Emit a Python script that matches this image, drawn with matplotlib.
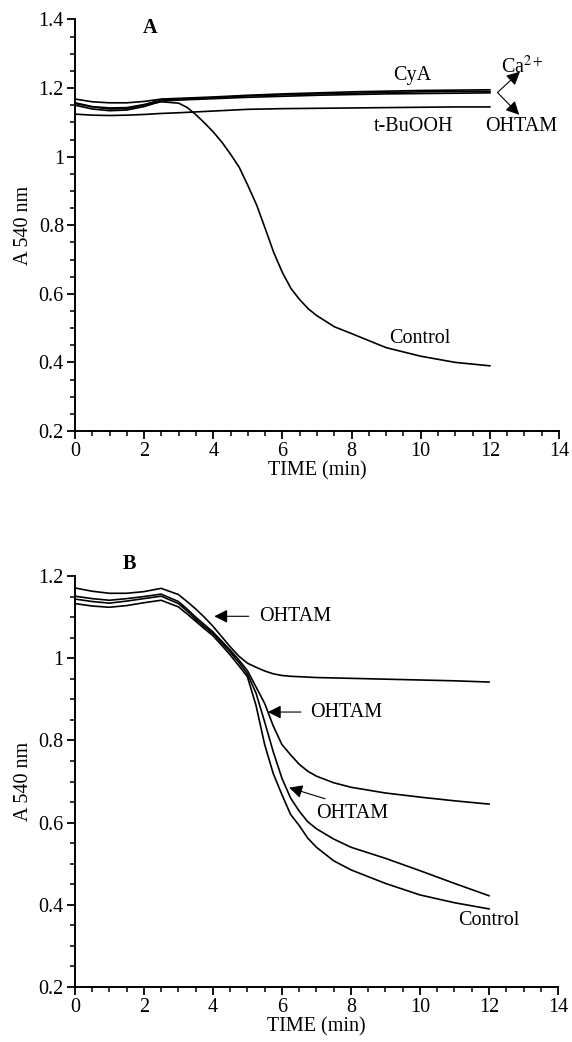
import matplotlib.pyplot as plt
from matplotlib.ticker import MultipleLocator

plt.rcParams['font.family'] = ['Liberation Serif', 'DejaVu Serif']
plt.rcParams['mathtext.fontset'] = 'stix'

# Время измерения (мин): грубая сетка для пологих кривых, частая для падающих
t_flat = [0, 0.5, 1, 1.5, 2, 2.5, 3, 4, 5, 6, 7, 8, 9, 10, 11, 12]
t = [0, 0.5, 1, 1.5, 2, 2.5, 3, 3.25, 3.5, 3.75, 4, 4.25, 4.5, 4.75, 5, 5.25, 5.5, 5.75,
     6, 6.25, 6.5, 6.75, 7, 7.5, 8, 9, 10, 11, 12]

# Панель A
a_cya = [1.168, 1.160, 1.157, 1.157, 1.161, 1.168, 1.170, 1.174, 1.179, 1.183, 1.186, 1.189,
         1.191, 1.193, 1.194, 1.195]
a_ca = [1.157, 1.146, 1.142, 1.143, 1.152, 1.166, 1.168, 1.172, 1.177, 1.180, 1.183, 1.185,
        1.187, 1.189, 1.190, 1.190]
a_ohtam = [1.150, 1.139, 1.134, 1.136, 1.146, 1.162, 1.165, 1.169, 1.173, 1.176, 1.179, 1.181,
           1.183, 1.184, 1.185, 1.186]
a_tbu = [1.124, 1.121, 1.120, 1.121, 1.123, 1.126, 1.128, 1.133, 1.138, 1.140, 1.141, 1.142,
         1.143, 1.144, 1.145, 1.145]
a_control = [1.155, 1.145, 1.139, 1.140, 1.150, 1.160, 1.156, 1.143, 1.122, 1.098, 1.072, 1.042,
             1.007, 0.969, 0.916, 0.860, 0.791, 0.720, 0.662, 0.615, 0.583, 0.556, 0.536, 0.504,
             0.484, 0.443, 0.418, 0.400, 0.390]

# Панель B
b_ohtam1 = [1.171, 1.163, 1.158, 1.158, 1.162, 1.170, 1.155, 1.138, 1.120, 1.100, 1.078, 1.053,
            1.028, 1.005, 0.988, 0.978, 0.969, 0.962, 0.958, 0.956, 0.955, 0.954, 0.953, 0.952,
            0.951, 0.949, 0.947, 0.945, 0.942]
b_ohtam2 = [1.151, 1.145, 1.141, 1.145, 1.150, 1.156, 1.138, 1.120, 1.100, 1.082, 1.064, 1.042,
            1.020, 0.996, 0.970, 0.930, 0.890, 0.835, 0.790, 0.765, 0.742, 0.725, 0.713, 0.697,
            0.686, 0.672, 0.662, 0.653, 0.645]
b_ohtam3 = [1.144, 1.138, 1.134, 1.139, 1.145, 1.151, 1.133, 1.115, 1.095, 1.077, 1.060, 1.038,
            1.015, 0.990, 0.962, 0.915, 0.845, 0.772, 0.708, 0.660, 0.628, 0.602, 0.585, 0.560,
            0.540, 0.513, 0.483, 0.452, 0.422]
b_control = [1.133, 1.127, 1.124, 1.128, 1.135, 1.141, 1.125, 1.108, 1.090, 1.072, 1.055, 1.032,
             1.008, 0.982, 0.955, 0.885, 0.790, 0.719, 0.668, 0.620, 0.593, 0.562, 0.540, 0.507,
             0.485, 0.452, 0.424, 0.405, 0.390]

fig = plt.figure(figsize=(5.72, 10.42), dpi=100)
axA = fig.add_axes([0.1311, 0.5864, 0.8462, 0.3949])
axB = fig.add_axes([0.1308, 0.0528, 0.8448, 0.3944])

FS = 14.5


def style_axes(ax, ymin, ymax):
    ax.set_xlim(0, 14)
    ax.set_ylim(ymin, ymax)
    for side in ('top', 'right'):
        ax.spines[side].set_visible(False)
    for side in ('left', 'bottom'):
        ax.spines[side].set_linewidth(1.4)
    ax.xaxis.set_major_locator(MultipleLocator(2))
    ax.xaxis.set_minor_locator(MultipleLocator(0.5))
    ax.yaxis.set_major_locator(MultipleLocator(0.2))
    ax.yaxis.set_minor_locator(MultipleLocator(0.05))
    ax.tick_params(which='major', direction='out', length=6, width=1.3, labelsize=FS, pad=2)
    ax.tick_params(which='minor', direction='out', length=3.5, width=1.1)
    ax.set_yticklabels([f'{v:g}' for v in ax.get_yticks()])
    ax.set_xlabel('TIME (min)', fontsize=FS, labelpad=0)
    ax.set_ylabel('A 540 nm', fontsize=FS, labelpad=4)


lw = 1.2
for y in (a_cya, a_ca, a_ohtam, a_tbu):
    axA.plot(t_flat, y, color='black', lw=lw)
axA.plot(t, a_control, color='black', lw=lw)
style_axes(axA, 0.2, 1.4)
axA.text(2.16, 1.375, 'A', fontsize=FS, fontweight='bold', ha='center', va='center')
axA.text(9.75, 1.238, 'CyA', fontsize=FS, ha='center', va='center')
axA.text(9.8, 1.087, 't-BuOOH', fontsize=FS, ha='center', va='center')
axA.text(12.92, 1.087, 'OHTAM', fontsize=FS, ha='center', va='center')
axA.text(12.95, 1.262, 'Ca$^{2+}$', fontsize=FS, ha='center', va='center')
axA.text(9.97, 0.471, 'Control', fontsize=FS, ha='center', va='center')
arrow_kw = dict(arrowstyle='-|>', color='black', lw=0.8, mutation_scale=20,
                shrinkA=0, shrinkB=0)
axA.annotate('', xy=(12.87, 1.248), xytext=(12.22, 1.187), arrowprops=arrow_kw)
axA.annotate('', xy=(12.85, 1.122), xytext=(12.22, 1.187), arrowprops=arrow_kw)

for y in (b_ohtam1, b_ohtam2, b_ohtam3, b_control):
    axB.plot(t, y, color='black', lw=lw)
style_axes(axB, 0.2, 1.2)
axB.text(1.58, 1.229, 'B', fontsize=FS, fontweight='bold', ha='center', va='center')
axB.text(5.33, 1.102, 'OHTAM', fontsize=FS, ha='left', va='center')
axB.text(6.81, 0.869, 'OHTAM', fontsize=FS, ha='left', va='center')
axB.text(7.0, 0.621, 'OHTAM', fontsize=FS, ha='left', va='center')
axB.text(12.0, 0.361, 'Control', fontsize=FS, ha='center', va='center')
axB.annotate('', xy=(4.04, 1.102), xytext=(5.04, 1.102), arrowprops=arrow_kw)
axB.annotate('', xy=(5.59, 0.869), xytext=(6.55, 0.869), arrowprops=arrow_kw)
axB.annotate('', xy=(6.21, 0.685), xytext=(7.25, 0.658), arrowprops=arrow_kw)

fig.savefig('out.png', dpi=100)
